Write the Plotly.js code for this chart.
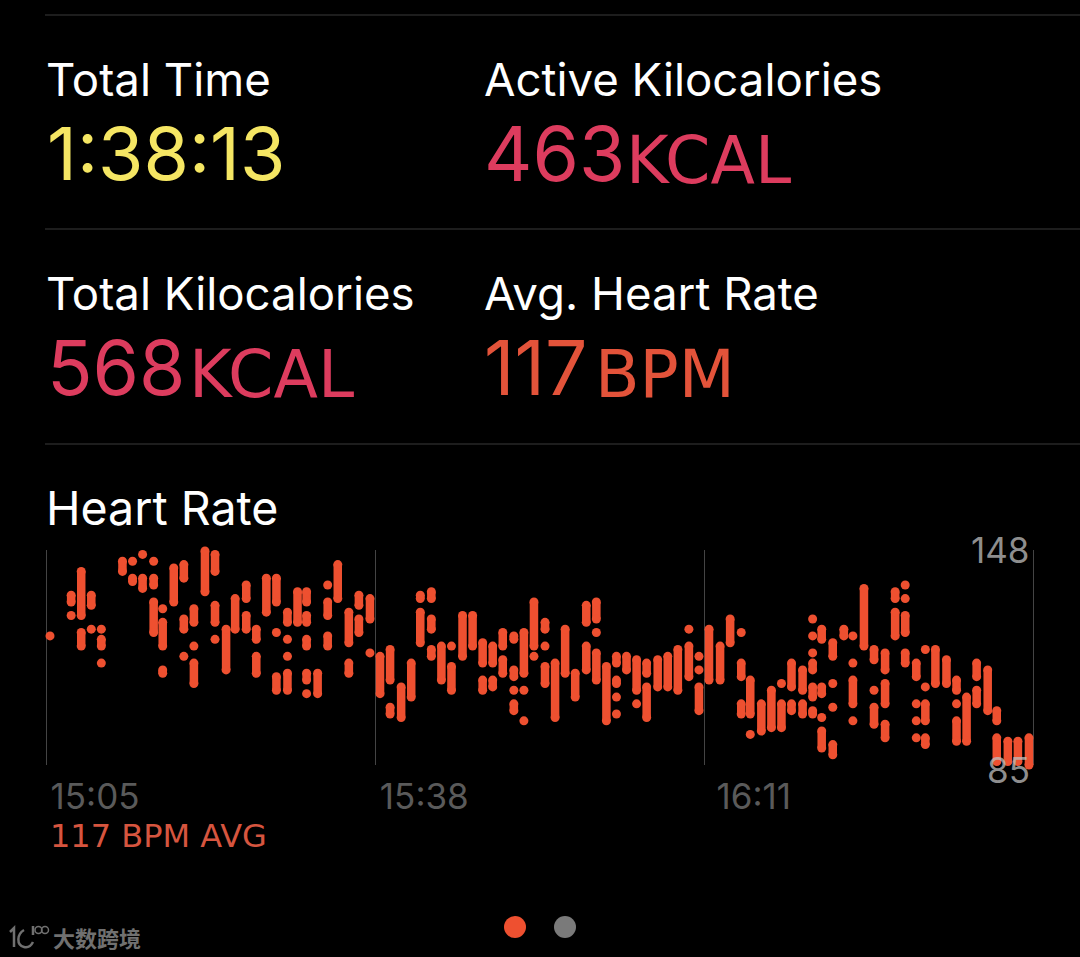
<!DOCTYPE html>
<html><head><meta charset="utf-8">
<script src="https://cdn.plot.ly/plotly-3.0.1.min.js"></script>
<style>html,body{margin:0;padding:0;background:#000;overflow:hidden}</style>
</head><body><div id="chart" style="width:1080px;height:957px"></div>
<script>
// minutes after 15:05 for each sampling column
const minutes = [0.4,2.5,3.5,4.5,5.5,7.6,8.6,9.6,10.7,11.6,12.7,13.7,14.7,15.8,16.8,17.9,18.8,19.9,20.9,21.9,22.9,24.0,25.0,25.9,27.0,28.0,29.0,30.1,31.1,32.2,
33.2,34.2,35.3,36.3,37.2,38.3,39.3,40.3,41.4,42.4,43.4,44.4,45.4,46.5,47.5,48.5,49.6,50.6,51.6,52.6,53.7,54.7,55.7,56.7,57.7,58.7,59.7,60.8,61.8,62.8,63.9,64.9,
65.9,67.0,68.0,69.1,70.0,71.1,72.1,73.1,74.1,75.2,76.2,77.1,78.2,79.3,80.2,81.3,82.3,83.4,84.4,85.4,86.5,87.4,88.4,89.5,90.5,91.5,92.5,93.6,94.5,95.6,96.6,97.7];
// heart-rate [low, high] ranges in each column, a single reading has low = high
const heartRanges = [
[[123,123]],[[133,135],[129,129]],[[129,142],[120,124]],[[132,135],[125,125]],[[125,125],[120,122],[115,115]],
[[142,145]],[[145,145],[139,140]],[[147,147],[137,140]],[[145,145],[138,140],[124,133]],[[131,131],[120,127],[112,113]],
[[133,143]],[[140,144],[125,128],[117,117]],[[127,131],[120,120],[109,115]],[[136,148]],[[142,147],[127,132],[122,122]],
[[113,125]],[[125,134]],[[134,138],[125,129]],[[122,125],[112,117]],[[130,140]],
[[133,140],[124,124],[107,111]],[[127,130],[122,122],[117,117],[107,112]],[[127,136]],[[133,136],[127,129],[120,122],[110,112],[106,106]],[[106,112]],
[[138,138],[129,133],[120,123]],[[134,144]],[[121,130],[112,115]],[[132,135],[124,128]],[[128,134],[118,118]],
[[106,117]],[[110,119],[100,102]],[[99,108]],[[105,115]],[[134,135],[121,130]],
[[134,136],[125,128],[117,119]],[[110,120]],[[120,120],[107,114]],[[117,129]],[[120,129]],
[[115,121],[107,110]],[[115,120],[108,110]],[[120,124],[112,116]],[[122,123],[111,113],[107,107],[101,103]],[[112,124],[107,107],[98,98]],
[[120,133],[117,117]],[[125,127],[120,120],[109,114]],[[99,115]],[[112,125]],[[105,112]],
[[127,132],[113,120]],[[128,133],[124,124],[110,118]],[[98,114]],[[115,117],[109,110],[105,105],[100,100]],[[113,117]],
[[107,116],[103,103]],[[112,115],[99,108]],[[108,116]],[[108,117]],[[107,119]],
[[125,125],[111,120]],[[117,117],[113,113],[101,108]],[[110,125]],[[110,120]],[[121,128]],
[[124,124],[111,115],[100,103]],[[100,110],[94,94]],[[95,103]],[[96,107]],[[109,109],[96,103]],
[[108,115],[101,103]],[[107,113],[100,103]],[[128,128],[123,123],[118,118],[113,115],[105,108],[100,101]],[[122,125],[106,108],[99,99],[90,95]],[[117,121],[109,109],[102,102],[88,91]],
[[123,125]],[[123,123],[115,115],[103,110],[98,98]],[[120,137]],[[116,119],[107,107],[97,102]],[[113,118],[103,109],[93,97]],
[[134,136],[123,130]],[[138,138],[134,134],[124,129],[115,118]],[[111,115],[103,103],[98,98],[93,93]],[[119,119],[108,108],[98,103],[91,93]],[[109,119]],
[[109,116]],[[107,110],[103,103],[92,98]],[[92,105]],[[111,115],[103,107]],[[101,113]],
[[98,101],[86,93]],[[86,92]],[[86,92]],[[85,93]]
];
const tickMinutes = [0, 32.73, 65.47, 98.2];
const tickLabels = ['15:05','15:38','16:11',''];
const hrTicks = [148, 85];
const stats = [
  {label:'Total Time', value:'1:38:13', unit:'', color:'#f5e663', size:73.5},
  {label:'Active Kilocalories', value:'463', unit:'KCAL', color:'#dd3c5e', size:75},
  {label:'Total Kilocalories', value:'568', unit:'KCAL', color:'#dd3c5e', size:75},
  {label:'Avg. Heart Rate', value:'117', unit:'BPM', color:'#e3533a', size:75}
];
const statPos = [{x:45,y:79,vx:46,ux:0},{x:483,y:79,vx:483,ux:625},{x:45,y:293,vx:46,ux:188},{x:483,y:293,vx:483,ux:594}];

const FONT = 'Inter, "Liberation Sans", sans-serif';
const UNIT = '"DejaVu Sans", sans-serif';
const px = x => (x-45)/990, py = y => (765-y)/215;
const xs=[], ys=[];
minutes.forEach((m,i)=>heartRanges[i].forEach(([lo,hi])=>{
  if(lo===hi){xs.push(m,null);ys.push(lo,null);}
  else{xs.push(m,m,null);ys.push(lo,hi,null);}
}));
const trace = {type:'scatter',mode:'lines+markers',x:xs,y:ys,cliponaxis:false,connectgaps:false,
  line:{color:'#ee5030',width:8.5},marker:{color:'#ee5030',size:9,line:{width:0}},hoverinfo:'skip',showlegend:false};
const ann = (text,x,y,size,color,family) => ({text,xref:'paper',yref:'paper',x:px(x),y:py(y),xanchor:'left',yanchor:'middle',
  showarrow:false,borderpad:0,font:{family:family||FONT,size,color}});
const annotations=[];
stats.forEach((s,i)=>{
  const p=statPos[i];
  annotations.push(ann(s.label,p.x,p.y,45.6,'#ffffff'));
  annotations.push(ann(s.value,p.vx,p.y+74,s.size,s.color));
  if(s.unit) annotations.push(ann(s.unit,p.ux,p.y+81,65,s.color,UNIT));
});
annotations.push(ann('Heart Rate',45,508,46.5,'#ffffff'));
annotations.push(ann('117 BPM AVG',49,836,32,'#d6553f',UNIT));
hrTicks.forEach((v,i)=>annotations.push({text:String(v),xref:'paper',yref:'y',x:px(1031),y:v,yshift:i?-5:1,xanchor:'right',yanchor:'middle',showarrow:false,borderpad:0,font:{family:FONT,size:35,color:'rgba(190,190,190,0.75)'}}));
annotations.push(Object.assign(ann('大数跨境',52,937,22,'#707070'),{font:{family:'"Noto Sans CJK SC"',size:22,color:'#707070',weight:700}}));
const WM='#707070';
const P=(x,y)=>`${px(x)} ${py(y)}`;
const line = y=>({type:'line',xref:'paper',yref:'paper',x0:px(45),x1:px(1080),y0:py(y),y1:py(y),line:{color:'#3a3a3a',width:1}});
const dot = (cx,c)=>({type:'circle',xref:'paper',yref:'paper',x0:px(cx-11),x1:px(cx+11),y0:py(927-11),y1:py(927+11),fillcolor:c,line:{width:0}});
const wmPath = d=>({type:'path',xref:'paper',yref:'paper',path:d,line:{color:WM,width:2.5}});
const ring = (cx,cy,r)=>({type:'circle',xref:'paper',yref:'paper',x0:px(cx-r),x1:px(cx+r),y0:py(cy-r),y1:py(cy+r),line:{color:WM,width:1.5}});
const shapes=[line(15),line(229),line(444),dot(515,'#ee5030'),dot(565,'#7a7a7a'),
  wmPath(`M ${P(10,932)} L ${P(14,928)} L ${P(14,947)}`),
  wmPath(`M ${P(24,930)} C ${P(17,934)} ${P(16,945)} ${P(24,947)} C ${P(28,948)} ${P(31,946)} ${P(33,942)}`),
  wmPath(`M ${P(33,926)} L ${P(33,935)}`),
  ring(38.5,930,3.5),ring(45,930,3.5)];
Plotly.newPlot('chart',[trace],{
  width:1080,height:957,paper_bgcolor:'#000',plot_bgcolor:'#000',showlegend:false,
  margin:{l:45,r:45,t:550,b:192,pad:0},
  xaxis:{range:[-0.1,98.3],tickmode:'array',tickvals:tickMinutes,ticktext:tickLabels,showgrid:true,gridcolor:'#444444',gridwidth:1,zeroline:false,showline:false,ticks:'',
    tickfont:{family:FONT,size:35,color:'#5a5a5a'},ticklabelshift:49,ticklabelstandoff:8},
  yaxis:{range:[85,148.3],showgrid:false,zeroline:false,showline:false,showticklabels:false,ticks:'',tickvals:hrTicks},
  annotations,shapes
},{displayModeBar:false,staticPlot:true});
</script></body></html>
